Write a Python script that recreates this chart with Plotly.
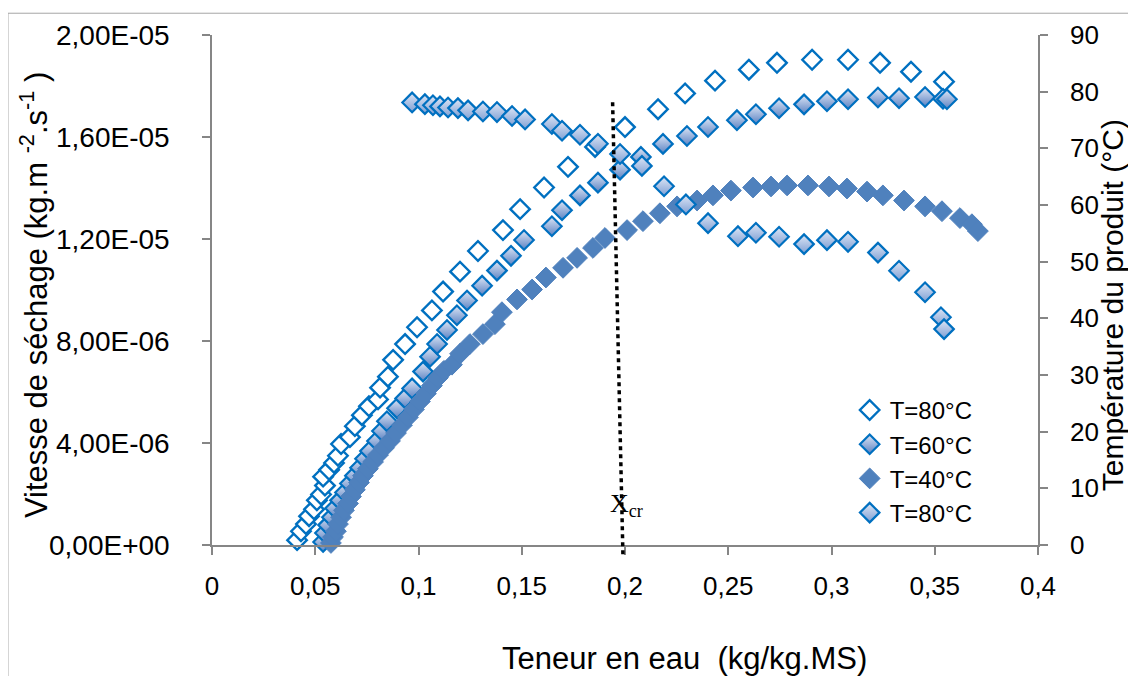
import plotly.graph_objects as go

# ---------------- data ----------------
# T=80°C drying rate (x: kg/kg.MS, y: 1e-6 kg.m-2.s-1)
x_80 = [0.0412, 0.0431, 0.0455, 0.0470, 0.0494, 0.0508, 0.0528, 0.0547, 0.0538, 0.0567,
        0.0591, 0.0610, 0.0625, 0.0668, 0.0692, 0.0726, 0.0760, 0.0804, 0.0814, 0.0852,
        0.0877, 0.0935, 0.0993, 0.1065, 0.1119, 0.1201, 0.1288, 0.1409, 0.1492, 0.1608,
        0.1724, 0.1855, 0.2000, 0.2160, 0.2291, 0.2436, 0.2600, 0.2736, 0.2906, 0.3080,
        0.3235, 0.3385, 0.3545]
v_80 = [0.19, 0.54, 0.82, 1.13, 1.40, 1.75, 1.98, 2.33, 2.68, 2.95,
        3.22, 3.50, 3.96, 4.23, 4.66, 5.09, 5.44, 5.71, 6.17, 6.60,
        7.26, 7.88, 8.54, 9.20, 9.94, 10.72, 11.53, 12.35, 13.17, 14.02,
        14.83, 15.61, 16.39, 17.09, 17.71, 18.21, 18.64, 18.91, 19.03, 19.03,
        18.91, 18.56, 18.17]

# T=60°C drying rate
x_60 = [0.0538, 0.0547, 0.0562, 0.0581, 0.0596, 0.0620, 0.0644, 0.0668, 0.0692, 0.0717,
        0.0741, 0.0765, 0.0799, 0.0823, 0.0847, 0.0896, 0.0935, 0.0969, 0.1022, 0.1056,
        0.1090, 0.1138, 0.1186, 0.1235, 0.1308, 0.1380, 0.1448, 0.1511, 0.1646, 0.1695,
        0.1782, 0.1869, 0.1976, 0.2077, 0.2184, 0.2300, 0.2402, 0.2542, 0.2634, 0.2746,
        0.2867, 0.2978, 0.3080, 0.3225, 0.3327, 0.3453, 0.3540, 0.3559]
v_60 = [0.12, 0.47, 0.78, 1.09, 1.44, 1.75, 2.06, 2.41, 2.72, 3.03,
        3.38, 3.69, 4.08, 4.47, 4.85, 5.36, 5.75, 6.14, 6.80, 7.38,
        7.88, 8.43, 9.01, 9.59, 10.17, 10.76, 11.34, 11.96, 12.50, 13.13,
        13.71, 14.21, 14.72, 15.22, 15.73, 16.04, 16.39, 16.66, 16.89, 17.13,
        17.28, 17.40, 17.48, 17.55, 17.52, 17.57, 17.50, 17.48]

# T=40°C drying rate
x_40 = [0.0576, 0.0586, 0.0600, 0.0610, 0.0625, 0.0639, 0.0659, 0.0673, 0.0692, 0.0712,
        0.0731, 0.0755, 0.0780, 0.0804, 0.0833, 0.0862, 0.0891, 0.0920, 0.0949, 0.0978,
        0.1007, 0.1036, 0.1065, 0.1094, 0.1123, 0.1162, 0.1201, 0.1249, 0.1312, 0.1370,
        0.1404, 0.1477, 0.1550, 0.1617, 0.1700, 0.1768, 0.1845, 0.1903, 0.2010, 0.2087,
        0.2169, 0.2252, 0.2349, 0.2426, 0.2513, 0.2620, 0.2707, 0.2785, 0.2886, 0.2988,
        0.3075, 0.3172, 0.3249, 0.3351, 0.3453, 0.3535, 0.3622, 0.3680, 0.3709]
v_40 = [0.08, 0.31, 0.54, 0.82, 1.09, 1.36, 1.63, 1.90, 2.17, 2.45,
        2.72, 2.99, 3.26, 3.53, 3.81, 4.08, 4.39, 4.70, 5.01, 5.32,
        5.63, 5.94, 6.25, 6.56, 6.83, 7.07, 7.50, 7.88, 8.27, 8.66,
        9.13, 9.63, 10.02, 10.49, 10.87, 11.26, 11.65, 12.04, 12.35, 12.70,
        13.01, 13.28, 13.51, 13.71, 13.90, 14.02, 14.06, 14.10, 14.10, 14.06,
        13.98, 13.86, 13.71, 13.51, 13.28, 13.09, 12.82, 12.58, 12.31]

# T=80°C product temperature (°C, right axis)
x_temp = [0.0969, 0.1031, 0.1070, 0.1104, 0.1143, 0.1191, 0.1240, 0.1312, 0.1380, 0.1453,
          0.1516, 0.1646, 0.1695, 0.1782, 0.1869, 0.1976, 0.2082, 0.2189, 0.2295, 0.2402,
          0.2547, 0.2634, 0.2746, 0.2867, 0.2978, 0.3080, 0.3225, 0.3327, 0.3453, 0.3530,
          0.3545]
t_temp = [78.1, 77.8, 77.6, 77.4, 77.2, 77.1, 76.7, 76.5, 76.4, 75.7,
          75.1, 74.3, 73.1, 72.4, 70.8, 69.0, 66.9, 63.3, 60.1, 56.8,
          54.5, 55.1, 54.4, 53.1, 53.8, 53.5, 51.6, 48.4, 44.6, 40.2,
          38.1]

series_names = ["T=80°C", "T=60°C", "T=40°C", "T=80°C"]

# axis ticks
x_tickvals = [0, 0.05, 0.1, 0.15, 0.2, 0.25, 0.3, 0.35, 0.4]
x_ticktext = ["0", "0,05", "0,1", "0,15", "0,2", "0,25", "0,3", "0,35", "0,4"]
y_tickvals = [0, 4e-6, 8e-6, 1.2e-5, 1.6e-5, 2e-5]
y_ticktext = ["0,00E+00", "4,00E-06", "8,00E-06", "1,20E-05", "1,60E-05", "2,00E-05"]
y2_tickvals = [0, 10, 20, 30, 40, 50, 60, 70, 80, 90]

# critical moisture content marker (dotted line)
xcr_top, xcr_bottom = 0.194, 0.199

FONT = "Liberation Sans, Arial, sans-serif"
AX = "#868686"
BLUE = "#0070C0"

def scale(v):
    return [a * 1e-6 for a in v]

fig = go.Figure()
fig.add_trace(go.Scatter(
    x=x_80, y=scale(v_80), mode="markers", name=series_names[0], cliponaxis=False,
    marker=dict(symbol="diamond", size=15, color="white", line=dict(color=BLUE, width=2.4))))
fig.add_trace(go.Scatter(
    x=x_60, y=scale(v_60), mode="markers", name=series_names[1], cliponaxis=False,
    marker=dict(symbol="diamond", size=15, color="#DDE6F6",
                gradient=dict(type="vertical", color="#5B82C2"),
                line=dict(color=BLUE, width=2.2))))
fig.add_trace(go.Scatter(
    x=x_40, y=scale(v_40), mode="markers", name=series_names[2], cliponaxis=False,
    marker=dict(symbol="diamond", size=16, color="#4F81BD", line=dict(color="#4F81BD", width=1))))
fig.add_trace(go.Scatter(
    x=x_temp, y=t_temp, mode="markers", name=series_names[3], yaxis="y2", cliponaxis=False,
    marker=dict(symbol="diamond", size=15, color="#DDE6F6",
                gradient=dict(type="vertical", color="#7F9FD3"),
                line=dict(color=BLUE, width=2.2))))

axis_common = dict(showline=True, linecolor=AX, linewidth=1.5, ticks="outside", ticklen=8,
                   tickcolor=AX, tickwidth=1.5, showgrid=False, zeroline=False)

tick_font = dict(family=FONT, size=26, color="black")

fig.update_layout(
    width=1128, height=668,
    paper_bgcolor="white", plot_bgcolor="white",
    margin=dict(l=204, r=98, t=22, b=131),
    font=dict(family=FONT, color="black"),
    xaxis=dict(range=[0, 0.4], tickvals=x_tickvals, ticktext=x_ticktext,
               ticklabelstandoff=9, tickfont=tick_font, **axis_common),
    yaxis=dict(range=[0, 2e-5], tickvals=y_tickvals, ticktext=y_ticktext,
               ticklabelstandoff=27, tickfont=dict(family=FONT, size=28, color="black"),
               **axis_common),
    yaxis2=dict(range=[0, 90], tickvals=y2_tickvals, overlaying="y", side="right",
                ticklabelstandoff=17, tickfont=tick_font, **axis_common),
    legend=dict(x=0.772, y=0.308, xanchor="left", yanchor="top", bgcolor="rgba(0,0,0,0)",
                font=dict(family=FONT, size=24, color="black"), tracegroupgap=0,
                itemwidth=30),
    showlegend=True,
)

# dotted X_cr line
fig.add_shape(type="line", xref="x", yref="paper", x0=xcr_top, y0=0.868, x1=xcr_bottom, y1=-0.02,
              line=dict(color="black", width=3.5, dash="4px,4px"))

# outer chart frame
fig.add_shape(type="rect", xref="paper", yref="paper", x0=-0.247, y0=-0.32, x1=1.2, y1=1.0427,
              line=dict(color="#A6A6A6", width=1))

fig.add_annotation(text="Teneur en eau  (kg/kg.MS)", xref="paper", yref="paper",
                   x=0.5726, y=-0.2233, showarrow=False, xanchor="center", yanchor="middle",
                   font=dict(family=FONT, size=31, color="black"))
fig.add_annotation(text="Vitesse de séchage (kg.m <sup>-2</sup>.s<sup>-1</sup> )", xref="paper", yref="paper",
                   x=-0.2155, y=0.49, textangle=-90, showarrow=False, xanchor="center", yanchor="middle",
                   font=dict(family=FONT, size=31, color="black"))
fig.add_annotation(text="Température du produit (°C)", xref="paper", yref="paper",
                   x=1.0895, y=0.47, textangle=-90, showarrow=False, xanchor="center", yanchor="middle",
                   font=dict(family=FONT, size=30, color="black"))
fig.add_annotation(text="X<sub>cr</sub>", xref="paper", yref="paper",
                   x=0.502, y=0.078, showarrow=False, xanchor="center", yanchor="middle",
                   font=dict(family="Liberation Serif, Times New Roman, serif", size=26, color="black"))

fig.write_html("out.html")
